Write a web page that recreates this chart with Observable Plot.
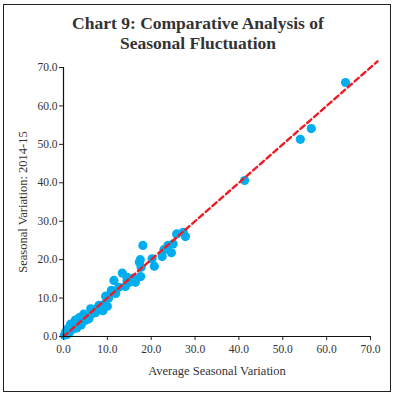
<!DOCTYPE html>
<html>
<head>
<meta charset="utf-8">
<script src="https://cdn.jsdelivr.net/npm/d3@7"></script>
<script src="https://cdn.jsdelivr.net/npm/@observablehq/plot@0.6"></script>
<style>
  html, body { margin: 0; padding: 0; background: #fff; }
  #frame { position: relative; width: 396px; height: 397px; overflow: hidden; }
  #border { position: absolute; left: 3px; top: 4px; width: 386px; height: 386px; border: 1.5px solid #222; box-sizing: content-box; pointer-events: none; }
  .title { position: absolute; left: 0; width: 396px; text-align: center; font-family: "Liberation Serif", serif; font-weight: bold; font-size: 17.5px; color: #333; line-height: 20px; }
  #chart { position: absolute; left: 0; top: 0; }
</style>
</head>
<body>
<div id="frame">
  <div id="chart"></div>
  <div class="title" style="top:13px">Chart 9: Comparative Analysis of</div>
  <div class="title" style="top:33px">Seasonal Fluctuation</div>
  <div id="border"></div>
</div>
<script>
const averageVariation = [0.2,0.5,0.8,1.0,1.3,1.6,2.0,2.3,2.7,3.0,3.3,3.6,4.0,4.2,4.6,5.0,5.5,5.8,6.2,6.6,7.3,7.8,8.1,8.6,9.0,9.2,9.6,10.0,10.3,10.9,11.5,11.9,12.6,13.4,14.1,14.5,14.5,15.0,16.0,16.4,17.3,17.6,17.7,18.1,17.5,20.2,20.7,22.5,22.9,23.8,24.6,25.0,25.8,27.3,27.8,41.3,54.0,56.5,64.3];
const variation2014_15 = [0.3,1.2,0.5,2.0,1.0,3.2,1.8,2.8,4.3,2.2,3.5,4.9,3.0,3.6,5.8,4.2,5.0,4.6,7.2,6.0,6.2,7.5,8.1,7.0,6.7,8.3,10.5,7.9,10.0,12.0,14.6,11.2,12.8,16.5,13.0,15.4,14.6,14.1,15.2,14.1,19.3,15.6,18.0,23.7,20.0,20.2,18.3,20.8,22.6,23.7,21.8,24.1,26.7,27.1,26.0,40.6,51.3,54.1,66.1];
const lineX = [0, 71.6];
const lineY = [0, 71.6];
const ticks = [0, 10, 20, 30, 40, 50, 60, 70];

const points = averageVariation.map((x, i) => ({x, y: variation2014_15[i]}));
const diag = lineX.map((x, i) => ({x, y: lineY[i]}));

const chart = Plot.plot({
  width: 396,
  height: 397,
  marginLeft: 63,
  marginRight: 26,
  marginTop: 67,
  marginBottom: 61,
  style: {fontFamily: "Liberation Serif, serif", fontSize: "11.5px", color: "#333", background: "transparent"},
  x: {domain: [0, 70]},
  y: {domain: [0, 70]},
  marks: [
    Plot.dot(points, {x: "x", y: "y", r: 4.6, fill: "#00aeef", stroke: "none"}),
    Plot.line(diag, {x: "x", y: "y", stroke: "#ee1c25", strokeWidth: 2.4, strokeDasharray: "5.5,3.5"}),
    Plot.axisX({ticks, tickFormat: d => d.toFixed(1), tickSize: 4, tickPadding: 4, stroke: "#222", fill: "#333", label: null}),
    Plot.axisY({ticks, tickFormat: d => d.toFixed(1), tickSize: 4, tickPadding: 2, stroke: "#222", fill: "#333", label: null}),
    Plot.ruleX([0], {stroke: "#111", strokeWidth: 1.2}),
    Plot.ruleY([0], {stroke: "#111", strokeWidth: 1.2}),
    Plot.text(["Average Seasonal Variation"], {frameAnchor: "bottom", dy: 38, fontSize: 12.5, fill: "#333"}),
    Plot.text(["Seasonal Variation: 2014-15"], {frameAnchor: "left", textAnchor: "middle", dx: -41, rotate: -90, fontSize: 12.5, fill: "#333"})
  ]
});
document.getElementById("chart").appendChild(chart);
</script>
</body>
</html>
